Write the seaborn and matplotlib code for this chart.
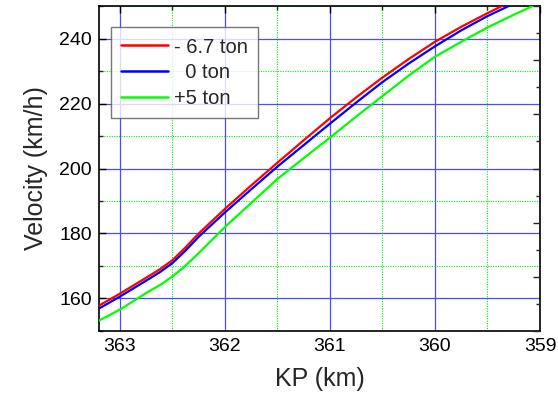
import pandas as pd
import matplotlib.pyplot as plt
import seaborn as sns
from matplotlib.ticker import MultipleLocator

# Values.
kp_red = [363.2, 363.0, 362.75, 362.62, 362.5, 362.38, 362.25, 362.0, 361.75, 361.5, 361.25,
          361.0, 360.75, 360.5, 360.25, 360.0, 359.75, 359.5, 359.3]
v_red = [157.8, 161.5, 166.4, 169.0, 171.8, 175.6, 180.0, 187.6, 194.8, 201.8, 208.7,
         215.5, 221.9, 228.0, 233.7, 239.0, 243.6, 247.8, 251.0]
kp_blue = [363.2, 363.0, 362.75, 362.62, 362.5, 362.38, 362.25, 362.0, 361.75, 361.5, 361.25,
           361.0, 360.75, 360.5, 360.25, 360.0, 359.75, 359.5, 359.2]
v_blue = [156.9, 160.6, 165.5, 168.1, 170.9, 174.6, 179.0, 186.5, 193.6, 200.6, 207.2,
          213.8, 220.3, 226.6, 232.3, 237.6, 242.5, 246.9, 251.5]
kp_green = [363.2, 363.0, 362.75, 362.6, 362.5, 362.4, 362.3, 362.2, 362.0, 361.75, 361.5,
            361.25, 361.0, 360.75, 360.5, 360.25, 360.0, 359.75, 359.5, 359.25, 359.0]
v_green = [153.2, 156.6, 161.7, 164.5, 166.8, 169.4, 172.4, 175.6, 182.0, 189.4, 196.8,
           203.2, 209.5, 216.0, 222.3, 228.6, 234.4, 239.0, 243.4, 247.3, 251.0]
labels = ["- 6.7 ton", "  0 ton", "+5 ton"]
colors = ["#ff0000", "#0000ff", "#00ff00"]

frames = []
for lab, kp, v in zip(labels, [kp_red, kp_blue, kp_green], [v_red, v_blue, v_green]):
    frames.append(pd.DataFrame({"KP": kp, "V": v, "load": lab}))
df = pd.concat(frames, ignore_index=True)

sns.set_style("white")
plt.rcParams['font.family'] = ['Liberation Sans', 'DejaVu Sans']

fig = plt.figure(figsize=(5.58, 4.01), dpi=100)
ax = fig.add_axes([0.1774, 0.1746, 0.7903, 0.8104])

sns.lineplot(data=df, x="KP", y="V", hue="load", palette=dict(zip(labels, colors)),
             sort=False, estimator=None, linewidth=1.6, ax=ax, zorder=3)

ax.set_xlim(363.2, 359)
ax.set_ylim(150, 250)
ax.xaxis.set_major_locator(MultipleLocator(1))
ax.xaxis.set_minor_locator(MultipleLocator(0.5))
ax.yaxis.set_major_locator(MultipleLocator(20))
ax.yaxis.set_minor_locator(MultipleLocator(10))

ax.grid(which='major', color='#4a4aff', linewidth=0.9, linestyle='-')
ax.grid(which='minor', color='#00ee00', linewidth=0.8, linestyle=(0, (1, 1.2)))
ax.set_axisbelow(True)

ax.tick_params(which='major', direction='in', length=5, width=1, top=True, right=False,
               labelsize=14, colors='black', pad=5)
ax.tick_params(which='minor', direction='in', length=3, width=1, top=True, right=False)
for s in ax.spines.values():
    s.set_color('black')
    s.set_linewidth(1.2)

ax.set_xlabel("KP (km)", fontsize=18, labelpad=9)
ax.set_ylabel("Velocity (km/h)", fontsize=18, labelpad=8)

# right side has its own tick spacing in the reference
ax2 = ax.twinx()
ax2.set_ylim(0, 6)
ax2.yaxis.set_major_locator(MultipleLocator(1))
ax2.yaxis.set_minor_locator(MultipleLocator(0.5))
ax2.tick_params(which='major', direction='in', length=5, width=1, labelright=False)
ax2.tick_params(which='minor', direction='in', length=3, width=1)
ax2.grid(False)
for s in ax2.spines.values():
    s.set_visible(False)

leg = ax.legend(loc='upper left', bbox_to_anchor=(0.028, 0.934), borderaxespad=0,
                fontsize=14.5, frameon=True, fancybox=False, handlelength=2.33,
                handletextpad=0.28, labelspacing=0.34, borderpad=0.5)
leg.get_frame().set_edgecolor('#555555')
leg.get_frame().set_linewidth(1.0)
for line in leg.get_lines():
    line.set_linewidth(1.8)

fig.savefig("out.png", dpi=100)
